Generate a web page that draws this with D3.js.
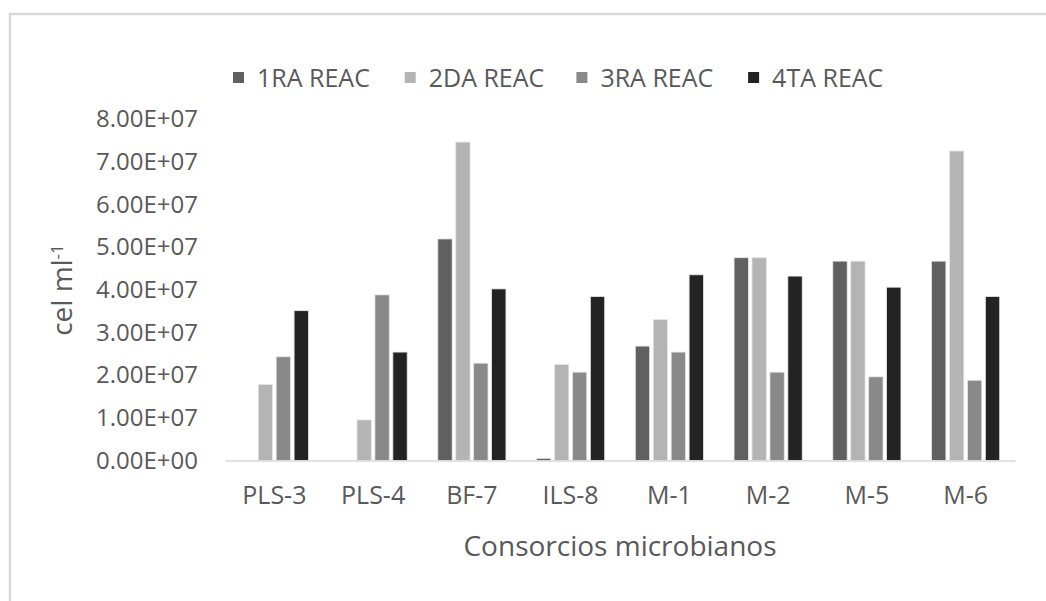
<!DOCTYPE html>
<html>
<head>
<meta charset="utf-8">
<script src="https://cdn.jsdelivr.net/npm/d3@7"></script>
<style>
  body { margin: 0; background: #fff; }
  text { font-family: "Open Sans", sans-serif; fill: #595959; }
</style>
</head>
<body>
<svg width="1046" height="601"></svg>
<script>
// chart data
var categories = ["PLS-3", "PLS-4", "BF-7", "ILS-8", "M-1", "M-2", "M-5", "M-6"];
var seriesNames = ["1RA REAC", "2DA REAC", "3RA REAC", "4TA REAC"];
var reac1 = [0, 0, 5.19e7, 0.05e7, 2.68e7, 4.75e7, 4.67e7, 4.67e7];
var reac2 = [1.78e7, 0.95e7, 7.46e7, 2.25e7, 3.30e7, 4.75e7, 4.67e7, 7.25e7];
var reac3 = [2.43e7, 3.88e7, 2.28e7, 2.07e7, 2.54e7, 2.07e7, 1.96e7, 1.88e7];
var reac4 = [3.51e7, 2.54e7, 4.02e7, 3.84e7, 4.35e7, 4.32e7, 4.06e7, 3.84e7];
var colors = ["#606060", "#b4b4b4", "#898989", "#232323"];

var series = [reac1, reac2, reac3, reac4];

var svg = d3.select("svg");

// outer chart frame (only left and top edges are inside the picture)
svg.append("path")
    .attr("d", "M10,601 L10,14 L1046,14")
    .attr("fill", "none")
    .attr("stroke", "#d9d9d9")
    .attr("stroke-width", 2.5);

var x0 = d3.scaleBand()
    .domain(categories)
    .range([225, 1015])
    .paddingInner(0.31)
    .paddingOuter(0.155);

var x1 = d3.scaleBand()
    .domain(d3.range(series.length))
    .range([0, x0.bandwidth()])
    .paddingInner(0.2);

var y = d3.scaleLinear()
    .domain([0, 8e7])
    .range([460.5, 119]);

function sciFormat(v) {
    if (v === 0) return "0.00E+00";
    var e = Math.floor(Math.log10(v));
    var m = v / Math.pow(10, e);
    return m.toFixed(2) + "E+" + (e < 10 ? "0" + e : e);
}

// y axis labels only
var yAxis = svg.append("g")
    .attr("transform", "translate(225,0)")
    .call(d3.axisLeft(y).ticks(8).tickSize(0).tickPadding(27).tickFormat(sciFormat));
yAxis.select(".domain").remove();
yAxis.selectAll("text")
    .style("font-size", "24px")
    .attr("fill", "#595959");

// bars
var groups = svg.append("g")
    .selectAll("g")
    .data(categories)
    .enter()
    .append("g")
    .attr("transform", function(d) { return "translate(" + x0(d) + ",0)"; });

groups.selectAll("rect")
    .data(function(d, i) {
        return series.map(function(s, k) { return {k: k, value: s[i]}; });
    })
    .enter()
    .append("rect")
    .attr("x", function(d) { return x1(d.k); })
    .attr("width", x1.bandwidth())
    .attr("y", function(d) { return y(d.value); })
    .attr("height", function(d) { return y(0) - y(d.value); })
    .attr("fill", function(d) { return colors[d.k]; })
    .attr("stroke", function(d) { return d.value > 0 ? "#e6e6e6" : "none"; })
    .attr("stroke-width", 0.8);

// x axis
var xAxis = svg.append("g")
    .attr("transform", "translate(0,460.5)")
    .call(d3.axisBottom(x0).tickSize(0).tickPadding(26));
xAxis.select(".domain")
    .attr("stroke", "#d9d9d9")
    .attr("stroke-width", 1.5);
xAxis.selectAll("text")
    .style("font-size", "25px")
    .attr("fill", "#595959");

// axis titles
svg.append("text")
    .attr("x", 620)
    .attr("y", 556)
    .attr("text-anchor", "middle")
    .style("font-size", "28px")
    .text("Consorcios microbianos");

var yTitle = svg.append("text")
    .attr("transform", "translate(72,290) rotate(-90)")
    .attr("text-anchor", "middle")
    .style("font-size", "28px");
yTitle.append("tspan").text("cel ml");
yTitle.append("tspan")
    .attr("dy", "-0.55em")
    .style("font-size", "17px")
    .text("-1");

// legend
var legend = svg.append("g")
    .selectAll("g")
    .data(seriesNames)
    .enter()
    .append("g")
    .attr("transform", function(d, i) { return "translate(" + (233 + i * 171.7) + ",72)"; });

legend.append("rect")
    .attr("width", 11)
    .attr("height", 11)
    .attr("fill", function(d, i) { return colors[i]; });

legend.append("text")
    .attr("x", 24)
    .attr("y", 15)
    .style("font-size", "25px")
    .text(function(d) { return d; });
</script>
</body>
</html>
